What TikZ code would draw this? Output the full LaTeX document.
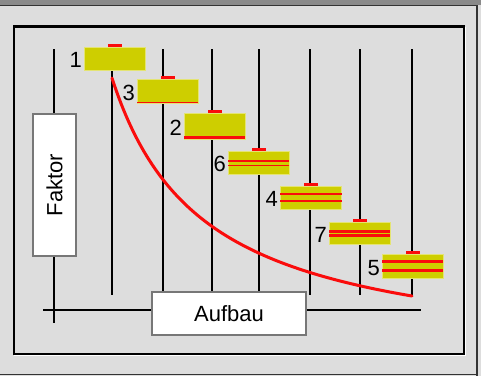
\documentclass[tikz,border=0pt]{standalone}
\usepackage{fontspec}
\setmainfont{Liberation Sans}
\definecolor{bgc}{HTML}{DDDDDD}
\definecolor{topc}{HTML}{8A8A8A}
\definecolor{barc}{RGB}{206,206,0}
\definecolor{rd}{RGB}{250,12,12}
\definecolor{boxline}{HTML}{777777}
\begin{document}
\begin{tikzpicture}[x=1pt,y=-1pt,
  font=\fontsize{22}{26}\selectfont,
  bar/.style={fill=barc, draw=barc!55!white, line width=0.6pt, inner sep=0pt, minimum width=61pt, anchor=north west},
  tabmark/.style={fill=rd},
  vline/.style={line width=1.5pt},
  axis/.style={line width=2pt},
  lbl/.style={anchor=east, inner sep=0pt, xshift=-2pt, yshift=-1.5pt},
  labelbox/.style={draw=boxline, fill=white, line width=1.2pt, inner sep=0pt}]
\useasboundingbox (0,0) rectangle (481,376);
% background and window frame
\fill[bgc] (0,0) rectangle (481,376);
\fill[topc] (0,0) rectangle (481,4.6);
\draw[black!80, line width=1.5pt] (0,5.3) -- (477.5,5.3);
\draw[black!80, line width=1.5pt] (476.8,5.3) -- (476.8,376);
\draw[black!80, line width=1pt] (0,374.8) -- (477.5,374.8);
\draw[line width=2.6pt] (14,26.7) rectangle (463.8,354);
\draw[white, line width=1pt] (465.6,27) -- (465.6,355.6) -- (14,355.6);
% grid lines
\foreach \xx in {112,163,212,259,310,360,412}
  \draw[vline] (\xx,49) -- (\xx,295);
\draw[axis] (54,49) -- (54,323);
\draw[axis] (43,310) -- (421,310);
% curve
\draw[rd, line width=3pt, line cap=round] plot[domain=112:412, samples=90, smooth]
  (\x, {296 - 262.02*(100/(\x-20) - 100/392)});
% bars
\node[bar, minimum height=23pt] (b1) at (84,47) {};
\node[bar, minimum height=24pt] (b3) at (137,79) {};
\node[bar, minimum height=26pt] (b2) at (184,113) {};
\node[bar, minimum height=23pt] (b6) at (228,151) {};
\node[bar, minimum height=23pt] (b4) at (280,186) {};
\node[bar, minimum height=22pt] (b7) at (329,222) {};
\node[bar, minimum height=24pt] (b5) at (382,254) {};
% tabs on top of bars
\foreach \b in {b1,b3,b2,b6,b4,b7,b5}
  \fill[tabmark] ([xshift=-7pt]\b.north) rectangle ([xshift=7.5pt,yshift=3.3pt]\b.north);
% red stripes
\fill[rd] (137,101.6) rectangle (198,103.3);
\fill[rd] (184,135.7) rectangle (245,139);
\fill[rd] (228.3,160.1) rectangle (288.7,161.7);
\fill[rd] (228.3,164.7) rectangle (288.7,165.7);
\fill[rd] (280.3,193.3) rectangle (341.7,194.7);
\fill[rd] (280.3,199.7) rectangle (341.7,202);
\fill[rd] (329.3,230) rectangle (389.7,232.7);
\fill[rd] (329.3,234.3) rectangle (389.7,236.7);
\fill[rd] (382.3,260.3) rectangle (442.7,263);
\fill[rd] (382.3,269) rectangle (442.7,272);
% numbers
\node[lbl] (l1) at (b1.west) {1};
\node[lbl] (l3) at (b3.west) {3};
\node[lbl] (l2) at (b2.west) {2};
\node[lbl] (l6) at (b6.west) {6};
\node[lbl] (l4) at (b4.west) {4};
\node[lbl] (l7) at (b7.west) {7};
\node[lbl] (l5) at (b5.west) {5};
% axis labels
\node[labelbox, rotate=90, minimum width=142pt, minimum height=43pt] (fak) at (54.5,185) {Faktor};
\node[labelbox, minimum width=154pt, minimum height=43pt] (auf) at (229,313.5) {Aufbau};
\end{tikzpicture}
\end{document}
